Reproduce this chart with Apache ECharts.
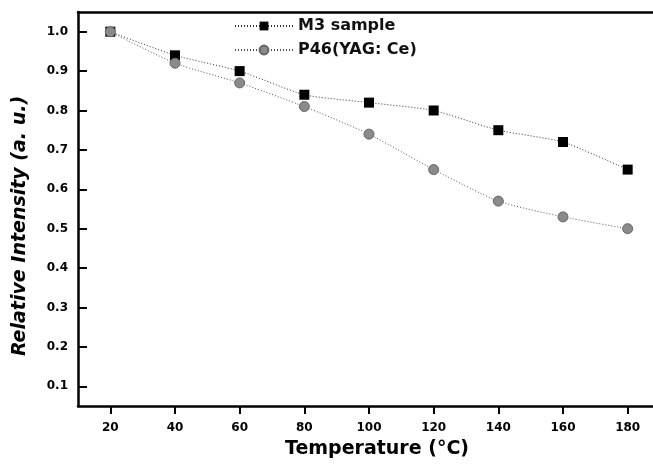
<!DOCTYPE html>
<html><head><meta charset="utf-8">
<script src="https://cdn.jsdelivr.net/npm/echarts@6/dist/echarts.min.js"></script>
<style>html,body{margin:0;padding:0;background:#fff}#c{width:653px;height:472px}</style>
</head><body><div id="c"></div>
<script>
var temperatures = [20, 40, 60, 80, 100, 120, 140, 160, 180];
var m3Sample = [1.00, 0.94, 0.90, 0.84, 0.82, 0.80, 0.75, 0.72, 0.65];
var p46 = [1.00, 0.92, 0.87, 0.81, 0.74, 0.65, 0.57, 0.53, 0.50];
var xTicks = [20, 40, 60, 80, 100, 120, 140, 160, 180];
var yTicks = [0.1, 0.2, 0.3, 0.4, 0.5, 0.6, 0.7, 0.8, 0.9, 1.0];

function pairs(xs, ys){ return xs.map(function(x,i){ return [x, ys[i]]; }); }

var chart = echarts.init(document.getElementById('c'), null, {renderer:'canvas'});
chart.setOption({
  animation:false,
  backgroundColor:'#fff',
  grid:{left:78, top:12, right:-7, bottom:66, show:false, outerBoundsMode:'none', containLabel:false},
  legend:{
    top:13, left:229, orient:'vertical', itemWidth:58, itemHeight:11, itemGap:8,
    textStyle:{fontFamily:'DejaVu Sans', fontSize:16, fontWeight:'bold', color:'#111'},
    data:['M3 sample','P46(YAG: Ce)']
  },
  xAxis:[{
    type:'value', min:10, max:190,
    name:'Temperature (°C)', nameLocation:'middle', nameGap:34,
    nameTextStyle:{fontFamily:'DejaVu Sans', fontSize:19, fontWeight:'bold', color:'#000', padding:[0,0,0,16]},
    axisLine:{show:true, lineStyle:{color:'#000', width:2.5}},
    axisTick:{show:true, inside:false, length:8, lineStyle:{color:'#000', width:2}, customValues:xTicks},
    axisLabel:{customValues:xTicks, margin:16, fontFamily:'DejaVu Sans', fontSize:12, fontWeight:'bold', color:'#000'},
    splitLine:{show:false}
  },{
    type:'value', min:10, max:190, position:'top',
    axisLine:{show:true, onZero:false, lineStyle:{color:'#000', width:2.5}},
    axisTick:{show:false}, axisLabel:{show:false}, splitLine:{show:false}
  }],
  yAxis:{
    type:'value', min:0.05, max:1.05,
    name:'Relative Intensity (a. u.)', nameLocation:'middle', nameGap:48, nameRotate:90,
    nameTextStyle:{fontFamily:'DejaVu Sans', fontSize:19, fontStyle:'italic', fontWeight:'bold', color:'#000', padding:[0,0,0,-34]},
    axisLine:{show:true, lineStyle:{color:'#000', width:2.5}},
    axisTick:{show:true, inside:true, length:9, lineStyle:{color:'#000', width:2}, customValues:yTicks},
    axisLabel:{customValues:yTicks, margin:10, fontFamily:'DejaVu Sans', fontSize:12, fontWeight:'bold', color:'#000',
      formatter:function(v){ return v.toFixed(1); }},
    splitLine:{show:false}
  },
  series:[
    {
      name:'M3 sample', type:'line', data:pairs(temperatures, m3Sample), smooth:0.2,
      symbol:'rect', symbolSize:10,
      itemStyle:{color:'#000'},
      lineStyle:{color:'#333', width:1, type:[1,2]}
    },
    {
      name:'P46(YAG: Ce)', type:'line', data:pairs(temperatures, p46), smooth:0.2,
      symbol:'circle', symbolSize:10,
      itemStyle:{color:'#8a8a8a', borderColor:'#666', borderWidth:1},
      lineStyle:{color:'#555', width:1, type:[1,2]}
    }
  ]
});
</script></body></html>
